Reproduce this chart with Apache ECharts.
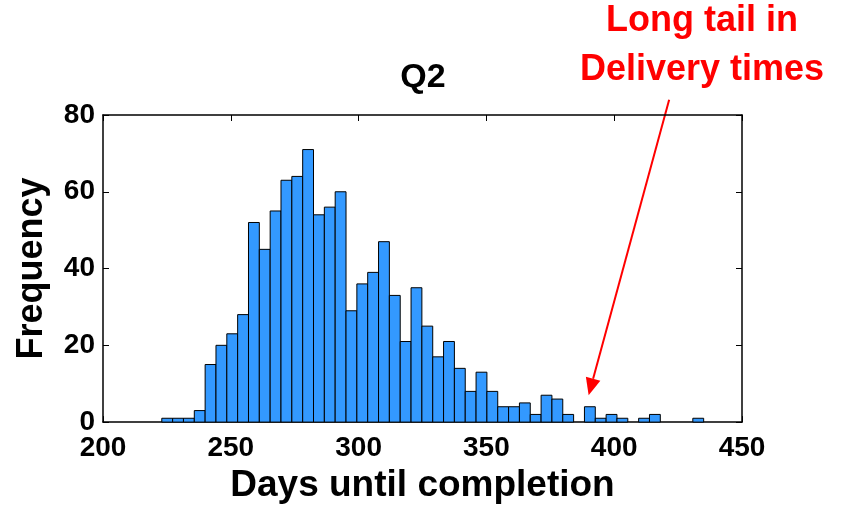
<!DOCTYPE html>
<html>
<head>
<meta charset="utf-8">
<script src="https://cdn.jsdelivr.net/npm/echarts@6/dist/echarts.min.js"></script>
<style>
html,body{margin:0;padding:0;background:#fff;}
#chart{width:846px;height:509px;}
</style>
</head>
<body>
<div id="chart"></div>
<script>
// ---- data ----
const chartTitle = 'Q2';
const xAxisTitle = 'Days until completion';
const yAxisTitle = 'Frequency';
const xTicks = [200, 250, 300, 350, 400, 450];
const yTicks = [0, 20, 40, 60, 80];
const binLeft = 223.0;      // left edge of first bin (days)
const binWidth = 4.24;      // bin width (days)
const counts = [1, 1, 1, 3, 15, 20, 23, 28, 52, 45,
                55, 63, 64, 71, 54, 56, 60, 29, 36, 39,
                47, 33, 21, 35, 25, 17, 21, 14, 8, 13,
                8, 4, 4, 5, 2, 7, 6, 2, 0, 4,
                1, 2, 1, 0, 1, 2, 0, 0, 0, 1];
const noteLines = ['Long tail in', 'Delivery times'];
const arrowFrom = [421.5, 84];   // data coords
const arrowTo = [390, 7];        // data coords

// ---- build ----
const histData = counts.map((c, i) => [binLeft + i * binWidth, binLeft + (i + 1) * binWidth, c]);
const FONT = "'Liberation Sans', Arial, Helvetica, sans-serif";

const chart = echarts.init(document.getElementById('chart'), null, {renderer: 'canvas'});

const axisCommon = {
  axisLine: {show: true, onZero: false, lineStyle: {color: '#000', width: 1.5}},
  axisTick: {show: true, inside: true, length: 6, lineStyle: {color: '#000', width: 1}},
  splitLine: {show: false}
};

const option = {
  backgroundColor: '#fff',
  animation: false,
  title: {
    text: chartTitle, left: 'center', top: 56,
    textStyle: {fontFamily: FONT, fontWeight: 'bold', fontSize: 34, color: '#000'}
  },
  grid: {left: 103, right: 104, top: 115, bottom: 79, containLabel: false},
  xAxis: [
    Object.assign({}, axisCommon, {
      type: 'value', position: 'bottom', min: xTicks[0], max: xTicks[xTicks.length - 1], interval: 50,
      name: xAxisTitle, nameLocation: 'middle', nameGap: 35,
      nameTextStyle: {fontFamily: FONT, fontWeight: 'bold', fontSize: 37, color: '#000'},
      axisLabel: {margin: 12, fontFamily: FONT, fontWeight: 'bold', fontSize: 28, color: '#000'}
    }),
    Object.assign({}, axisCommon, {
      type: 'value', position: 'top', min: xTicks[0], max: xTicks[xTicks.length - 1], interval: 50,
      axisLabel: {show: false}
    })
  ],
  yAxis: [
    Object.assign({}, axisCommon, {
      type: 'value', position: 'left', min: yTicks[0], max: yTicks[yTicks.length - 1], interval: 20,
      name: yAxisTitle, nameLocation: 'middle', nameGap: 53, nameRotate: 90,
      nameTextStyle: {fontFamily: FONT, fontWeight: 'bold', fontSize: 36, color: '#000'},
      axisLabel: {margin: 8, fontFamily: FONT, fontWeight: 'bold', fontSize: 28, color: '#000'}
    }),
    Object.assign({}, axisCommon, {
      type: 'value', position: 'right', min: yTicks[0], max: yTicks[yTicks.length - 1], interval: 20,
      axisLabel: {show: false}
    })
  ],
  series: [{
    type: 'custom',
    xAxisIndex: 0, yAxisIndex: 0,
    data: histData,
    encode: {x: [0, 1], y: 2},
    renderItem: function (params, api) {
      const v = api.value(2);
      if (!v) return null;
      const p0 = api.coord([api.value(0), 0]);
      const p1 = api.coord([api.value(1), v]);
      return {
        type: 'rect',
        shape: {x: p0[0], y: p1[1], width: p1[0] - p0[0], height: p0[1] - p1[1]},
        style: {fill: '#3399ff', stroke: '#000', lineWidth: 1}
      };
    }
  }]
};
chart.setOption(option);

// annotation: text + arrow (arrow ends located through the chart's scales)
const a = chart.convertToPixel({xAxisIndex: 0, yAxisIndex: 0}, arrowFrom);
const b = chart.convertToPixel({xAxisIndex: 0, yAxisIndex: 0}, arrowTo);
const dx = b[0] - a[0], dy = b[1] - a[1];
const len = Math.sqrt(dx * dx + dy * dy);
const ux = dx / len, uy = dy / len;
const headLen = 17, headHalf = 7.5;
const baseX = b[0] - ux * headLen, baseY = b[1] - uy * headLen;
const red = '#ff0000';
const noteStyle = {fill: red, align: 'center', verticalAlign: 'middle',
  fontSize: 36, fontWeight: 'bold', fontFamily: FONT};
chart.setOption({
  graphic: [
    {type: 'text', x: 702, y: 21, style: Object.assign({text: noteLines[0]}, noteStyle)},
    {type: 'text', x: 702, y: 70, style: Object.assign({text: noteLines[1]}, noteStyle)},
    {type: 'line', shape: {x1: a[0], y1: a[1], x2: baseX, y2: baseY}, style: {stroke: red, lineWidth: 2}},
    {type: 'polygon', shape: {points: [[b[0], b[1]],
      [baseX - uy * headHalf, baseY + ux * headHalf],
      [baseX + uy * headHalf, baseY - ux * headHalf]]}, style: {fill: red}}
  ]
});
</script>
</body>
</html>
